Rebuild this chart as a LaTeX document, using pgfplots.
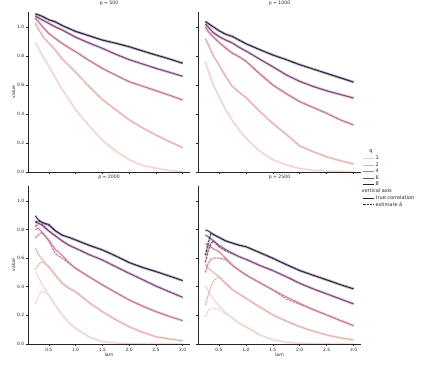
\documentclass[border=0pt]{standalone}
\usepackage{fontspec}
\setmainfont{DejaVu Sans}
\usepackage{pgfplots}
\usepackage{pgfplotstable}
\pgfplotsset{compat=1.18}

\definecolor{c1}{HTML}{EDD1CB}
\definecolor{c2}{HTML}{E3AFAB}
\definecolor{c4}{HTML}{C27490}
\definecolor{c6}{HTML}{7F4477}
\definecolor{c8}{HTML}{2D1E3E}
\definecolor{spine}{HTML}{262626}

% p = 500 (estimate coincides with truth)
\pgfplotstableread{
lam   t1    t2    t4    t6    t8
0.25  0.890 1.025 1.060 1.075 1.090
0.30  0.860 0.990 1.040 1.065 1.085
0.40  0.790 0.930 0.995 1.045 1.070
0.50  0.730 0.890 0.956 1.025 1.050
0.625 0.650 0.840 0.920 1.000 1.035
0.75  0.570 0.780 0.887 0.980 1.010
0.875 0.500 0.735 0.857 0.955 0.990
1.0   0.430 0.690 0.830 0.930 0.970
1.25  0.320 0.590 0.770 0.890 0.940
1.5   0.220 0.500 0.715 0.853 0.910
1.75  0.145 0.430 0.668 0.812 0.888
2.0   0.085 0.360 0.623 0.775 0.864
2.25  0.045 0.305 0.592 0.745 0.835
2.5   0.026 0.255 0.561 0.715 0.807
2.75  0.010 0.210 0.530 0.688 0.780
3.0   0.003 0.168 0.497 0.660 0.750
}\tabA

% p = 1000
\pgfplotstableread{
lam   t1    t2    t4    t6    t8
0.25  0.760 0.920 1.000 1.020 1.037
0.30  0.700 0.880 0.970 1.000 1.025
0.40  0.600 0.800 0.930 0.960 1.000
0.50  0.520 0.740 0.895 0.935 0.975
0.625 0.430 0.660 0.855 0.910 0.950
0.75  0.355 0.590 0.820 0.890 0.935
0.875 0.290 0.550 0.795 0.860 0.910
1.0   0.235 0.515 0.765 0.835 0.885
1.25  0.145 0.420 0.680 0.780 0.845
1.5   0.085 0.336 0.600 0.726 0.807
1.75  0.048 0.260 0.540 0.670 0.775
2.0   0.025 0.180 0.485 0.625 0.740
2.25  0.012 0.140 0.445 0.590 0.710
2.5   0.006 0.105 0.405 0.560 0.680
2.75  0.003 0.078 0.360 0.535 0.650
3.0   0.001 0.055 0.324 0.510 0.620
}\tabB

% p = 2000
\pgfplotstableread{
lam   t1    t2    t4    t6    t8    e1    e2    e4    e6    e8
0.25  0.506 0.669 0.797 0.850 0.895 0.280 0.520 0.740 0.820 0.850
0.30  0.470 0.630 0.810 0.845 0.870 0.330 0.550 0.760 0.840 0.860
0.35  0.435 0.605 0.790 0.835 0.855 0.360 0.570 0.775 0.840 0.855
0.40  0.400 0.580 0.770 0.820 0.845 0.370 0.570 0.770 0.830 0.845
0.50  0.343 0.540 0.725 0.790 0.835 0.340 0.540 0.720 0.790 0.830
0.625 0.270 0.480 0.660 0.755 0.790 0.270 0.480 0.630 0.755 0.790
0.75  0.205 0.425 0.620 0.720 0.760 0.205 0.425 0.600 0.720 0.760
0.875 0.150 0.390 0.570 0.690 0.745 0.150 0.390 0.565 0.690 0.745
1.0   0.110 0.366 0.529 0.669 0.727 0.110 0.366 0.529 0.669 0.727
1.25  0.050 0.290 0.470 0.625 0.690 0.050 0.290 0.470 0.625 0.690
1.5   0.016 0.226 0.413 0.587 0.657 0.016 0.226 0.413 0.587 0.657
1.75  0.006 0.170 0.360 0.540 0.615 0.006 0.170 0.360 0.540 0.615
2.0   0.002 0.121 0.308 0.494 0.569 0.002 0.121 0.308 0.494 0.569
2.25  0.001 0.082 0.265 0.450 0.535 0.001 0.082 0.265 0.450 0.535
2.5   0.000 0.051 0.226 0.405 0.506 0.000 0.051 0.226 0.405 0.506
2.75  0.000 0.035 0.193 0.365 0.475 0.000 0.035 0.193 0.365 0.475
3.0   0.000 0.022 0.163 0.326 0.443 0.000 0.022 0.163 0.326 0.443
}\tabC

% p = 2500
\pgfplotstableread{
lam   t1    t2    t4    t6    t8    e1    e2    e4    e6    e8
0.25  0.410 0.560 0.704 0.762 0.797 0.190 0.270 0.500 0.570 0.620
0.30  0.370 0.530 0.690 0.750 0.790 0.230 0.340 0.560 0.650 0.700
0.35  0.340 0.515 0.678 0.735 0.778 0.250 0.400 0.590 0.700 0.770
0.40  0.310 0.500 0.665 0.720 0.765 0.250 0.440 0.600 0.720 0.765
0.50  0.270 0.470 0.645 0.690 0.745 0.240 0.470 0.600 0.680 0.745
0.625 0.220 0.420 0.600 0.660 0.720 0.210 0.430 0.590 0.650 0.720
0.75  0.180 0.380 0.550 0.635 0.705 0.180 0.380 0.550 0.630 0.705
0.875 0.145 0.350 0.515 0.610 0.690 0.145 0.350 0.515 0.610 0.690
1.0   0.120 0.320 0.483 0.592 0.680 0.120 0.320 0.483 0.592 0.680
1.25  0.065 0.260 0.430 0.550 0.640 0.065 0.260 0.430 0.550 0.640
1.5   0.030 0.203 0.378 0.513 0.599 0.030 0.203 0.378 0.513 0.599
1.75  0.012 0.160 0.330 0.470 0.555 0.012 0.160 0.315 0.470 0.555
2.0   0.005 0.121 0.284 0.424 0.513 0.005 0.121 0.278 0.424 0.513
2.25  0.002 0.090 0.240 0.385 0.480 0.002 0.090 0.240 0.385 0.480
2.5   0.001 0.063 0.203 0.350 0.448 0.001 0.063 0.203 0.350 0.448
2.75  0.000 0.043 0.165 0.315 0.415 0.000 0.043 0.165 0.315 0.415
3.0   0.000 0.028 0.128 0.280 0.385 0.000 0.028 0.128 0.280 0.385
}\tabD

\pgfplotsset{
  panel/.style={
    scale only axis,
    xmin=0.1125, xmax=3.1375, ymin=0, ymax=1.1,
    axis lines=left,
    axis line style={-, draw=spine, line width=0.5pt},
    xtick={0.5,1.0,1.5,2.0,2.5,3.0},
    ytick={0,0.2,0.4,0.6,0.8,1.0},
    tick align=outside,
    major tick length=2.2pt,
    tick style={draw=spine, line width=0.5pt},
    ticklabel style={font=\fontsize{4.4}{5}\selectfont, text=spine},
    /pgf/number format/assume math mode=true,
    xticklabel style={/pgf/number format/fixed, /pgf/number format/fixed zerofill, /pgf/number format/precision=1, inner sep=1.5pt},
    yticklabel style={/pgf/number format/fixed, /pgf/number format/fixed zerofill, /pgf/number format/precision=1, inner sep=1.5pt},
    title style={font=\fontsize{4.6}{5}\selectfont, text=spine, yshift=-2pt},
    label style={font=\fontsize{4.6}{5}\selectfont, text=spine},
    ylabel style={yshift=-3pt},
    xlabel style={yshift=3pt},
  },
  band/.style={line width=2.6pt, opacity=0.18, forget plot},
  truel/.style={line width=0.75pt, forget plot},
  estl/.style={line width=0.75pt, dash pattern=on 2.4pt off 1pt, forget plot},
}

% #1 = table, #2 = column prefix of the estimate
\newcommand{\drawpanel}[2]{%
  \pgfplotsinvokeforeach{1,2,4,6,8}{%
    \addplot[band, draw=c##1] table[x=lam, y=t##1] {#1};
    \addplot[band, draw=c##1] table[x=lam, y=#2##1] {#1};
    \addplot[truel, draw=c##1] table[x=lam, y=t##1] {#1};
    \addplot[estl, draw=c##1] table[x=lam, y=#2##1] {#1};
  }}

\begin{document}
\begin{tikzpicture}[x=1pt, y=1pt]
\useasboundingbox (0,0) rectangle (423,366);

\begin{axis}[panel, at={(28pt,194pt)}, anchor=south west,
    width=162pt, height=159.5pt, xticklabels={}, ylabel={value},
    title={p = 500}]
  \drawpanel{\tabA}{t}
\end{axis}

\begin{axis}[panel, at={(198pt,194pt)}, anchor=south west,
    width=163pt, height=159.5pt, xticklabels={}, yticklabels={},
    title={p = 1000},
    legend cell align=left,
    legend style={at={(1.01,0.145)}, anchor=north west, draw=none, fill=none,
      font=\fontsize{5}{5.5}\selectfont, text=spine, row sep=-0.6pt,
      inner sep=0pt, nodes={inner sep=1pt}},
    legend image code/.code={\draw[#1] (0pt,0pt) -- (11pt,0pt);}]
  \drawpanel{\tabB}{t}
  \addlegendimage{empty legend}\addlegendentry{\hspace*{-8pt}q}
  \addlegendimage{c1, line width=0.75pt}\addlegendentry{1}
  \addlegendimage{c2, line width=0.75pt}\addlegendentry{2}
  \addlegendimage{c4, line width=0.75pt}\addlegendentry{4}
  \addlegendimage{c6, line width=0.75pt}\addlegendentry{6}
  \addlegendimage{c8, line width=0.75pt}\addlegendentry{8}
  \addlegendimage{empty legend}\addlegendentry{\hspace*{-14pt}vertical axis}
  \addlegendimage{spine, line width=0.75pt}\addlegendentry{true correlation}
  \addlegendimage{spine, line width=0.75pt, dash pattern=on 2.4pt off 1pt}\addlegendentry{estimate â}
\end{axis}

\begin{axis}[panel, at={(28pt,22pt)}, anchor=south west,
    width=162pt, height=157.5pt, ylabel={value}, xlabel={lam},
    title={p = 2000}]
  \drawpanel{\tabC}{e}
\end{axis}

\begin{axis}[panel, at={(198pt,22pt)}, anchor=south west,
    width=163pt, height=157.5pt, yticklabels={}, xlabel={lam},
    title={p = 2500}]
  \drawpanel{\tabD}{e}
\end{axis}
\end{tikzpicture}
\end{document}
